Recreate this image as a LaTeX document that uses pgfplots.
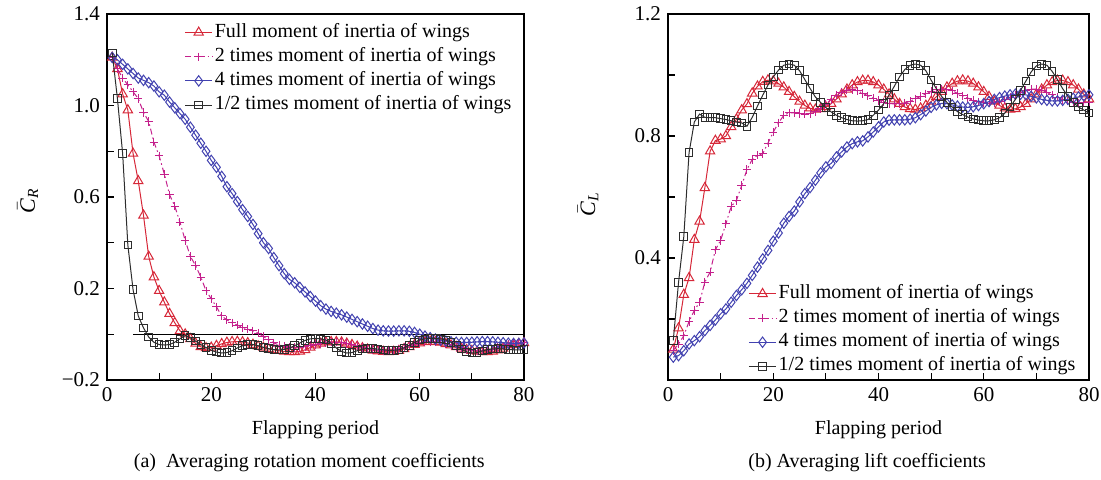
\documentclass[border=0pt]{standalone}
\usepackage{amsmath}
\usepackage{fontspec}
\setmainfont{Liberation Serif}
\usepackage{pgfplots}
\usepackage{pgfplotstable}
\pgfplotsset{compat=1.18}

\definecolor{cred}{RGB}{214,39,56}
\definecolor{cmag}{RGB}{196,32,140}
\definecolor{cblue}{RGB}{66,66,176}
\definecolor{cgray}{RGB}{45,45,45}

% rotation moment coefficients
\pgfplotstableread{
x y
1 1.21
2 1.16
3 1.05
4 0.98
5 0.79
6 0.67
7 0.52
8 0.34
9 0.25
10 0.19
11 0.14
12 0.09
13 0.05
14 0.015
15 0.0
16 -0.02
17 -0.04
18 -0.055
19 -0.06
20 -0.058
21 -0.05
22 -0.042
23 -0.036
24 -0.033
25 -0.032
26 -0.034
27 -0.038
28 -0.045
29 -0.052
30 -0.058
31 -0.064
32 -0.068
33 -0.072
34 -0.075
35 -0.077
36 -0.077
37 -0.075
38 -0.068
39 -0.058
40 -0.048
41 -0.04
42 -0.035
43 -0.033
44 -0.033
45 -0.035
46 -0.04
47 -0.046
48 -0.053
49 -0.06
50 -0.066
51 -0.071
52 -0.074
53 -0.076
54 -0.077
55 -0.076
56 -0.072
57 -0.064
58 -0.055
59 -0.046
60 -0.039
61 -0.034
62 -0.032
63 -0.033
64 -0.036
65 -0.042
66 -0.048
67 -0.055
68 -0.062
69 -0.068
70 -0.072
71 -0.075
72 -0.077
73 -0.077
74 -0.075
75 -0.07
76 -0.062
77 -0.054
78 -0.047
79 -0.042
80 -0.038
}\momfull

\pgfplotstableread{
x y
1 1.21
2 1.16
3 1.12
4 1.09
5 1.06
6 1.03
7 0.97
8 0.93
9 0.84
10 0.78
11 0.70
12 0.61
13 0.56
14 0.49
15 0.41
16 0.34
17 0.30
18 0.25
19 0.19
20 0.155
21 0.12
22 0.08
23 0.063
24 0.05
25 0.04
26 0.03
27 0.022
28 0.015
29 0.005
30 -0.01
31 -0.025
32 -0.038
33 -0.047
34 -0.052
35 -0.056
36 -0.058
37 -0.058
38 -0.055
39 -0.05
40 -0.045
41 -0.04
42 -0.036
43 -0.034
44 -0.034
45 -0.036
46 -0.04
47 -0.046
48 -0.052
49 -0.058
50 -0.063
51 -0.067
52 -0.07
53 -0.071
54 -0.071
55 -0.069
56 -0.064
57 -0.057
58 -0.05
59 -0.043
60 -0.037
61 -0.033
62 -0.031
63 -0.032
64 -0.035
65 -0.04
66 -0.046
67 -0.053
68 -0.06
69 -0.066
70 -0.07
71 -0.072
72 -0.072
73 -0.07
74 -0.065
75 -0.058
76 -0.051
77 -0.045
78 -0.04
79 -0.037
80 -0.035
}\momtwo

\pgfplotstableread{
x y
1 1.21
2 1.20
3 1.18
4 1.16
5 1.14
6 1.12
7 1.11
8 1.10
9 1.085
10 1.06
11 1.045
12 1.015
13 0.99
14 0.965
15 0.94
16 0.905
17 0.87
18 0.835
19 0.80
20 0.76
21 0.73
22 0.69
23 0.645
24 0.615
25 0.58
26 0.545
27 0.515
28 0.48
29 0.44
30 0.40
31 0.375
32 0.335
33 0.30
34 0.265
35 0.24
36 0.225
37 0.205
38 0.185
39 0.165
40 0.145
41 0.125
42 0.11
43 0.10
44 0.092
45 0.085
46 0.075
47 0.065
48 0.055
49 0.045
50 0.035
51 0.025
52 0.018
53 0.015
54 0.014
55 0.014
56 0.015
57 0.015
58 0.013
59 0.008
60 0.0
61 -0.008
62 -0.015
63 -0.021
64 -0.026
65 -0.03
66 -0.033
67 -0.035
68 -0.036
69 -0.036
70 -0.035
71 -0.033
72 -0.032
73 -0.032
74 -0.033
75 -0.035
76 -0.037
77 -0.039
78 -0.04
79 -0.04
80 -0.038
}\momfour

\pgfplotstableread{
x y
1 1.23
2 1.03
3 0.79
4 0.39
5 0.195
6 0.08
7 0.028
8 -0.012
9 -0.035
10 -0.045
11 -0.047
12 -0.045
13 -0.035
14 -0.02
15 -0.005
16 -0.015
17 -0.03
18 -0.045
19 -0.058
20 -0.07
21 -0.078
22 -0.082
23 -0.08
24 -0.072
25 -0.06
26 -0.05
27 -0.045
28 -0.045
29 -0.05
30 -0.057
31 -0.063
32 -0.067
33 -0.068
34 -0.066
35 -0.06
36 -0.05
37 -0.038
38 -0.027
39 -0.02
40 -0.018
41 -0.02
42 -0.025
43 -0.04
44 -0.06
45 -0.075
46 -0.082
47 -0.08
48 -0.072
49 -0.065
50 -0.062
51 -0.062
52 -0.065
53 -0.068
54 -0.07
55 -0.07
56 -0.068
57 -0.06
58 -0.048
59 -0.035
60 -0.025
61 -0.02
62 -0.018
63 -0.018
64 -0.02
65 -0.025
66 -0.035
67 -0.05
68 -0.065
69 -0.077
70 -0.082
71 -0.08
72 -0.073
73 -0.067
74 -0.064
75 -0.063
76 -0.064
77 -0.066
78 -0.068
79 -0.068
80 -0.067
}\momhalf

% lift coefficients
\pgfplotstableread{
x y
1 0.10
2 0.17
3 0.28
4 0.335
5 0.46
6 0.52
7 0.63
8 0.75
9 0.785
10 0.79
11 0.80
12 0.83
13 0.855
14 0.885
15 0.905
16 0.94
17 0.963
18 0.978
19 0.983
20 0.980
21 0.972
22 0.960
23 0.945
24 0.929
25 0.913
26 0.900
27 0.891
28 0.887
29 0.889
30 0.895
31 0.906
32 0.921
33 0.937
34 0.953
35 0.967
36 0.977
37 0.982
38 0.982
39 0.977
40 0.967
41 0.953
42 0.937
43 0.921
44 0.906
45 0.895
46 0.889
47 0.887
48 0.891
49 0.900
50 0.913
51 0.929
52 0.945
53 0.960
54 0.972
55 0.980
56 0.983
57 0.980
58 0.972
59 0.960
60 0.945
61 0.929
62 0.913
63 0.900
64 0.891
65 0.887
66 0.889
67 0.895
68 0.906
69 0.921
70 0.937
71 0.953
72 0.967
73 0.977
74 0.982
75 0.982
76 0.977
77 0.967
78 0.953
79 0.937
80 0.921
}\liftfull

\pgfplotstableread{
x y
1 0.097
2 0.118
3 0.145
4 0.192
5 0.228
6 0.255
7 0.321
8 0.354
9 0.427
10 0.458
11 0.512
12 0.569
13 0.589
14 0.638
15 0.69
16 0.723
17 0.737
18 0.742
19 0.777
20 0.813
21 0.843
22 0.868
23 0.876
24 0.876
25 0.874
26 0.872
27 0.874
28 0.879
29 0.89
30 0.904
31 0.92
32 0.934
33 0.944
34 0.95
35 0.952
36 0.948
37 0.94
38 0.932
39 0.924
40 0.917
41 0.911
42 0.907
43 0.905
44 0.905
45 0.908
46 0.914
47 0.922
48 0.93
49 0.938
50 0.946
51 0.951
52 0.954
53 0.953
54 0.948
55 0.94
56 0.932
57 0.924
58 0.917
59 0.912
60 0.909
61 0.908
62 0.909
63 0.913
64 0.919
65 0.927
66 0.935
67 0.943
68 0.95
69 0.954
70 0.954
71 0.95
72 0.943
73 0.935
74 0.927
75 0.92
76 0.915
77 0.911
78 0.909
79 0.909
80 0.911
}\lifttwo

\pgfplotstableread{
x y
1 0.075
2 0.08
3 0.096
4 0.118
5 0.129
6 0.142
7 0.162
8 0.179
9 0.197
10 0.217
11 0.233
12 0.255
13 0.277
14 0.296
15 0.317
16 0.343
17 0.37
18 0.397
19 0.425
20 0.455
21 0.482
22 0.514
23 0.536
24 0.554
25 0.584
26 0.611
27 0.631
28 0.655
29 0.679
30 0.699
31 0.71
32 0.731
33 0.748
34 0.764
35 0.775
36 0.781
37 0.784
38 0.797
39 0.813
40 0.83
41 0.846
42 0.852
43 0.853
44 0.853
45 0.853
46 0.855
47 0.86
48 0.87
49 0.882
50 0.894
51 0.902
52 0.907
53 0.906
54 0.902
55 0.898
56 0.895
57 0.894
58 0.896
59 0.9
60 0.906
61 0.913
62 0.92
63 0.926
64 0.931
65 0.935
66 0.937
67 0.937
68 0.935
69 0.93
70 0.925
71 0.92
72 0.917
73 0.915
74 0.915
75 0.917
76 0.92
77 0.924
78 0.928
79 0.932
80 0.935
}\liftfour

\pgfplotstableread{
x y
1 0.13
2 0.32
3 0.47
4 0.745
5 0.846
6 0.872
7 0.861
8 0.86
9 0.86
10 0.857
11 0.854
12 0.85
13 0.846
14 0.843
15 0.832
16 0.861
17 0.898
18 0.934
19 0.967
20 0.994
21 1.016
22 1.032
23 1.036
24 1.032
25 1.014
26 0.985
27 0.956
28 0.928
29 0.91
30 0.893
31 0.879
32 0.868
33 0.86
34 0.854
35 0.85
36 0.849
37 0.85
38 0.854
39 0.868
40 0.885
41 0.906
42 0.934
43 0.963
44 0.994
45 1.018
46 1.032
47 1.036
48 1.032
49 1.014
50 0.983
51 0.955
52 0.93
53 0.91
54 0.895
55 0.88
56 0.87
57 0.862
58 0.856
59 0.852
60 0.85
61 0.85
62 0.853
63 0.86
64 0.875
65 0.895
66 0.92
67 0.95
68 0.98
69 1.01
70 1.03
71 1.036
72 1.032
73 1.012
74 0.985
75 0.955
76 0.93
77 0.91
78 0.895
79 0.885
80 0.875
}\lifthalf

\pgfplotsset{
  flap/.style={
    scale only axis,
    clip mode=individual,
    height=183pt,
    xmin=0, xmax=80,
    xtick={0,20,40,60,80},
    xticklabels={0,20,40,60,80},
    minor xtick={10,30,50,70},
    tick align=inside,
    tick pos=left,
    major tick length=3.5pt,
    minor tick length=3.5pt,
    axis line style={line width=0.6pt},
    every tick/.style={black, line width=0.6pt},
    tick label style={font=\fontsize{10.5}{12}\selectfont},
    legend cell align=left,
    legend image code/.code={
      \draw[##1, mark=none] (0cm,0cm) -- (0.48cm,0cm);
      \draw[##1, solid] plot[only marks] coordinates {(0.24cm,0cm)};},
    legend style={draw=none, fill=none, inner sep=0pt, row sep=0.6pt,
      font=\fontsize{10}{12}\selectfont,
      nodes={inner sep=1pt, text height=7pt, text depth=2.5pt}},
  },
  sfull/.style={cred, line width=0.5pt, mark=triangle, mark size=2.7pt, mark options={solid}},
  stwo/.style={cmag, line width=0.5pt, dash pattern=on 3pt off 1.5pt on 0.8pt off 1.5pt, mark=+, mark size=2.1pt, mark options={solid}},
  sfour/.style={cblue, line width=0.5pt, mark=diamond, mark size=2.6pt, mark options={solid}},
  shalf/.style={cgray, line width=0.5pt, mark=square, mark size=1.9pt, mark options={solid}},
}

\begin{document}
\begin{tikzpicture}
\path[use as bounding box] (0,0) rectangle (550.5pt,239.5pt);

\begin{axis}[flap,
  at={(53.5pt,49.5pt)}, anchor=south west,
  width=208.5pt,
  ymin=-0.2, ymax=1.4,
  ytick={-0.2,0.2,0.6,1.0,1.4},
  yticklabels={−0.2,0.2,0.6,1.0,1.4},
  minor ytick={0,0.4,0.8,1.2},
  legend style={at={(0.185,0.982)}, anchor=north west},
]
\addplot[black, line width=0.6pt, forget plot] coordinates {(5,0) (80,0)};
\addplot[sfull] table {\momfull};
\addlegendentry{Full moment of inertia of wings}
\addplot[stwo] table {\momtwo};
\addlegendentry{2 times moment of inertia of wings}
\addplot[sfour] table {\momfour};
\addlegendentry{4 times moment of inertia of wings}
\addplot[shalf] table {\momhalf};
\addlegendentry{1/2 times moment of inertia of wings}
\node[rotate=90, font=\fontsize{11}{12}\selectfont] at (axis description cs:-0.19,0.49) {$\bar{\textit{C}}_{\textit{R}}$};
\node[font=\fontsize{10}{12}\selectfont] at (axis description cs:0.5,-0.137) {Flapping period};
\node[font=\fontsize{10}{12}\selectfont] at (axis description cs:0.485,-0.227) {(a)\ \ Averaging rotation moment coefficients};
\end{axis}

\begin{axis}[flap,
  at={(334pt,49.5pt)}, anchor=south west,
  width=210.5pt,
  ymin=0, ymax=1.2,
  ytick={0.4,0.8,1.2},
  yticklabels={0.4,0.8,1.2},
  minor ytick={0.2,0.6,1.0},
  legend style={at={(0.19,0.268)}, anchor=north west},
]
\addplot[sfull] table {\liftfull};
\addlegendentry{Full moment of inertia of wings}
\addplot[stwo] table {\lifttwo};
\addlegendentry{2 times moment of inertia of wings}
\addplot[sfour] table {\liftfour};
\addlegendentry{4 times moment of inertia of wings}
\addplot[shalf] table {\lifthalf};
\addlegendentry{1/2 times moment of inertia of wings}
\node[rotate=90, font=\fontsize{11}{12}\selectfont] at (axis description cs:-0.19,0.48) {$\bar{\textit{C}}_{\textit{L}}$};
\node[font=\fontsize{10}{12}\selectfont] at (axis description cs:0.5,-0.137) {Flapping period};
\node[font=\fontsize{10}{12}\selectfont] at (axis description cs:0.473,-0.227) {(b) Averaging lift coefficients};
\end{axis}
\end{tikzpicture}
\end{document}
